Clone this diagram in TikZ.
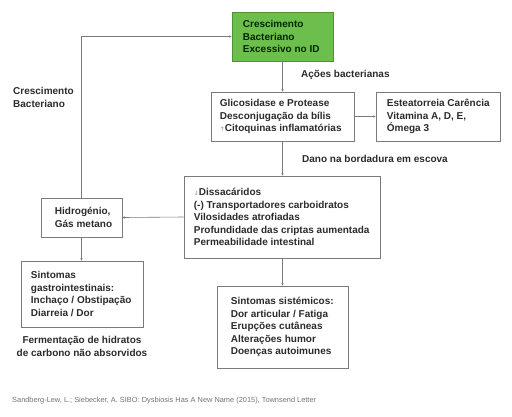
\documentclass[tikz,border=0pt]{standalone}
\usepackage{fontspec}
\setmainfont{Liberation Sans}
\newfontfamily\arrowfont{DejaVu Sans}
\usetikzlibrary{arrows.meta}
\definecolor{txt}{HTML}{2B2B2B}
\definecolor{ln}{HTML}{7A7A7A}
\definecolor{gfill}{HTML}{6CBF4C}
\definecolor{gdraw}{HTML}{4E9234}
\definecolor{garrow}{HTML}{7CC06A}
\newcommand{\garrowup}{{\color{garrow}\arrowfont\fontsize{6}{6}\selectfont ↑}}
\newcommand{\garrowdown}{{\color{garrow}\arrowfont\fontsize{6}{6}\selectfont ↓}}
\begin{document}
\begin{tikzpicture}[x=1pt,y=-1pt,
  every node/.style={font=\fontsize{10}{12.4}\selectfont\bfseries, text=txt},
  box/.style={draw=ln, line width=0.6pt, anchor=center, inner sep=0pt},
  lbl/.style={align=left, anchor=west, inner sep=0pt},
  conn/.style={draw=ln, line width=0.6pt, -{Stealth[length=2.5pt,width=2.5pt]}}]
\useasboundingbox (0,0) rectangle (512,416);
% boxes
\node[box, fill=gfill, draw=gdraw, minimum width=101pt, minimum height=49pt] (grow) at (282.5,36.5) {};
\node[box, minimum width=143pt, minimum height=49pt] (acts) at (282.5,116.5) {};
\node[box, minimum width=124pt, minimum height=49pt] (steat) at (438,116.5) {};
\node[box, minimum width=196pt, minimum height=82pt] (damage) at (282,217) {};
\node[box, minimum width=81pt, minimum height=39pt] (gas) at (81.5,217.5) {};
\node[box, minimum width=122pt, minimum height=66pt] (gi) at (82,294) {};
\node[box, minimum width=131pt, minimum height=82pt] (sys) at (282.5,327) {};
% box texts
\node[lbl, text=black!85!green] (growt) at ([xshift=11pt]grow.west) {Crescimento\\Bacteriano\\Excessivo no ID};
\node[lbl] (actst) at ([xshift=9pt]acts.west) {Glicosidase e Protease\\Desconjugação da bílis\\\garrowup Citoquinas inflamatórias};
\node[lbl] (steatt) at ([xshift=11pt]steat.west) {Esteatorreia Carência\\Vitamina A, D, E,\\Ómega 3};
\node[lbl] (damaget) at ([xshift=10pt]damage.west) {\garrowdown Dissacáridos\\(-) Transportadores carboidratos\\Vilosidades atrofiadas\\Profundidade das criptas aumentada\\Permeabilidade intestinal};
\node[lbl] (gast) at ([xshift=14pt]gas.west) {Hidrogénio,\\Gás metano};
\node[lbl] (git) at ([xshift=10pt]gi.west) {Sintomas\\gastrointestinais:\\Inchaço / Obstipação\\Diarreia / Dor};
\node[lbl] (syst) at ([xshift=14pt]sys.west) {Sintomas sistémicos:\\Dor articular / Fatiga\\Erupções cutâneas\\Alterações humor\\Doenças autoimunes};
% free labels
\node[align=center, inner sep=0pt] (ferm) at (82,346.5) {Fermentação de hidratos\\de carbono não absorvidos};
\node[lbl] (cb) at (13,97.5) {Crescimento\\Bacteriano};
\node[lbl] (ab) at (301,75) {Ações bacterianas};
\node[lbl] (dano) at (302,159) {Dano na bordadura em escova};
\node[lbl, font=\fontsize{7.4}{8}\selectfont, text=black!55] (cite) at (12,401) {Sandberg-Lew, L.; Siebecker, A. SIBO: Dysbiosis Has A New Name (2015), Townsend Letter};
% connectors
\draw[conn] (grow.south) -- (acts.north);
\draw[conn] (acts.east) -- (steat.west);
\draw[conn] (acts.south) -- (damage.north -| acts.south);
\draw[conn] (damage.west) -- (gas.east);
\draw[conn] (damage.south -| sys.north) -- (sys.north);
\draw[conn] (gas.south) -- (gi.north -| gas.south);
\draw[conn] (gas.north) |- (grow.west);
\end{tikzpicture}
\end{document}
